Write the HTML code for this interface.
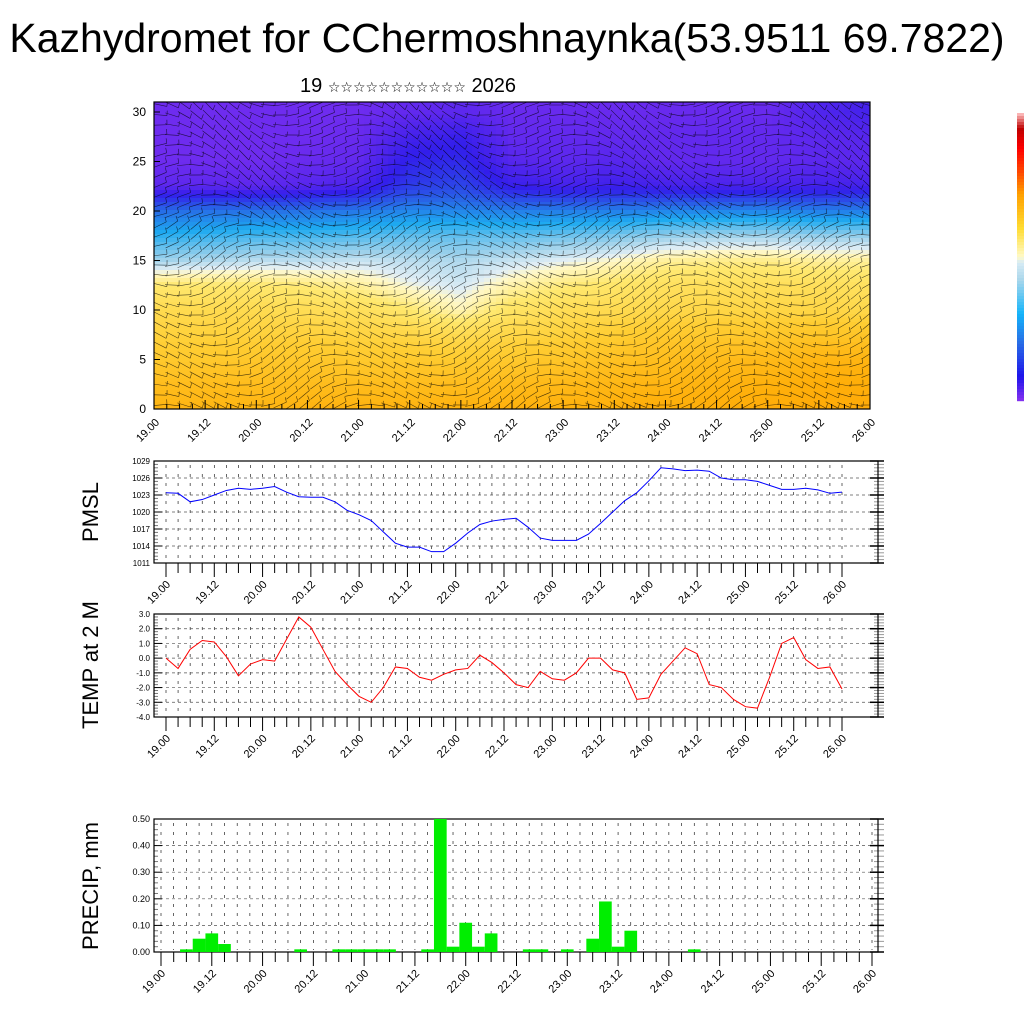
<!DOCTYPE html>
<html><head><meta charset="utf-8">
<style>
html,body{margin:0;padding:0;background:#fff;}
svg{display:block;font-family:"Liberation Sans","DejaVu Sans",sans-serif;}
</style></head>
<body>
<svg id="s" width="1024" height="1024" viewBox="0 0 1024 1024" xmlns="http://www.w3.org/2000/svg">
<defs><clipPath id="clipTop"><rect x="154" y="102" width="716" height="307"/></clipPath></defs>
<text x="507" y="52" font-size="41" text-anchor="middle">Kazhydromet for CChermoshnaynka(53.9511 69.7822)</text>
<text x="408" y="92" font-size="20" text-anchor="middle">19 <tspan font-size="14">☆☆☆☆☆☆☆☆☆☆☆</tspan> 2026</text>
<g id="topPanel"></g>
<g id="cbar"></g>
<g id="pmsl"></g>
<g id="temp"></g>
<g id="prec"></g>
<text transform="translate(98,512) rotate(-90)" font-size="22" text-anchor="middle">PMSL</text>
<text transform="translate(98,665) rotate(-90)" font-size="22" text-anchor="middle">TEMP at 2 M</text>
<text transform="translate(98,886) rotate(-90)" font-size="22" text-anchor="middle">PRECIP, mm</text>
</svg>
<script>
// ---------- data ----------
const timeLabels = ["19.00","19.12","20.00","20.12","21.00","21.12","22.00","22.12","23.00","23.12","24.00","24.12","25.00","25.12","26.00"];
const pmslTicks = [1011,1014,1017,1020,1023,1026,1029];
const pmslValues = [1023.4,1023.3,1021.8,1022.2,1023.0,1023.8,1024.2,1024.0,1024.2,1024.5,1023.5,1022.7,1022.6,1022.6,1021.8,1020.3,1019.5,1018.5,1016.5,1014.5,1013.8,1013.8,1013.0,1013.0,1014.5,1016.3,1017.8,1018.4,1018.7,1018.9,1017.3,1015.4,1015.0,1015.0,1015.0,1016.1,1018.0,1020.0,1022.0,1023.4,1025.5,1027.8,1027.6,1027.3,1027.4,1027.2,1026.0,1025.7,1025.7,1025.4,1024.7,1024.0,1024.0,1024.2,1023.9,1023.3,1023.5];
const tempTicks = [-4,-3,-2,-1,0,1,2,3];
const tempValues = [0.0,-0.7,0.6,1.2,1.1,0.1,-1.2,-0.4,-0.1,-0.2,1.3,2.8,2.1,0.6,-0.9,-1.8,-2.6,-3.0,-2.0,-0.6,-0.7,-1.3,-1.5,-1.1,-0.8,-0.7,0.2,-0.3,-1.0,-1.8,-2.0,-0.9,-1.4,-1.5,-1.0,0.0,0.0,-0.8,-1.0,-2.8,-2.7,-1.1,-0.2,0.7,0.3,-1.8,-2.0,-2.8,-3.3,-3.4,-1.3,1.0,1.4,-0.1,-0.7,-0.6,-2.1];
const precTicks = [0,0.1,0.2,0.3,0.4,0.5];
const precValues = [0,0,0.01,0.05,0.07,0.03,0,0,0,0,0,0.01,0,0,0.01,0.01,0.01,0.01,0.01,0,0,0.01,0.5,0.02,0.11,0.02,0.07,0,0,0.01,0.01,0,0.01,0,0.05,0.19,0.02,0.08,0,0,0,0,0.01,0,0,0,0,0,0,0,0,0,0,0,0,0,0];
const heightTicks = [0,5,10,15,20,25,30];
// normalized field: columns every 12h (15), rows 0..30 km every 2.5 (13)
const fieldCols = [
 [0.82,0.78,0.72,0.68,0.64,0.58,0.45,0.36,0.26,0.06,0.03,0.03,0.03],
 [0.82,0.78,0.72,0.68,0.64,0.58,0.46,0.37,0.27,0.06,0.03,0.03,0.03],
 [0.82,0.78,0.73,0.68,0.64,0.58,0.47,0.38,0.27,0.06,0.03,0.03,0.03],
 [0.83,0.78,0.73,0.68,0.63,0.57,0.47,0.38,0.27,0.07,0.04,0.03,0.03],
 [0.83,0.78,0.72,0.67,0.62,0.55,0.48,0.39,0.28,0.09,0.05,0.04,0.03],
 [0.83,0.78,0.72,0.66,0.58,0.51,0.47,0.40,0.30,0.18,0.14,0.10,0.05],
 [0.84,0.78,0.71,0.64,0.53,0.49,0.46,0.40,0.30,0.20,0.15,0.12,0.06],
 [0.84,0.79,0.72,0.66,0.60,0.54,0.48,0.40,0.29,0.12,0.07,0.05,0.04],
 [0.84,0.80,0.74,0.68,0.63,0.57,0.50,0.41,0.29,0.10,0.06,0.05,0.04],
 [0.85,0.81,0.76,0.70,0.64,0.59,0.52,0.42,0.29,0.11,0.07,0.05,0.04],
 [0.86,0.82,0.78,0.72,0.65,0.61,0.55,0.44,0.30,0.10,0.05,0.05,0.04],
 [0.86,0.83,0.79,0.72,0.66,0.62,0.56,0.45,0.30,0.09,0.05,0.05,0.04],
 [0.87,0.84,0.80,0.73,0.66,0.62,0.56,0.45,0.30,0.09,0.05,0.05,0.04],
 [0.88,0.86,0.82,0.74,0.66,0.62,0.55,0.44,0.29,0.10,0.06,0.06,0.08],
 [0.88,0.86,0.82,0.74,0.65,0.61,0.55,0.44,0.29,0.10,0.06,0.07,0.10]
];
// ---------- helpers ----------
const NS="http://www.w3.org/2000/svg";
function mk(parent,tag,attrs){const e=document.createElementNS(NS,tag);for(const k in attrs)e.setAttribute(k,attrs[k]);parent.appendChild(e);return e;}
const stops=[[0,[128,48,240]],[0.13,[50,30,235]],[0.25,[40,100,230]],[0.35,[30,170,240]],[0.45,[160,210,235]],[0.5,[225,238,245]],[0.52,[255,248,200]],[0.58,[255,232,110]],[0.7,[255,205,50]],[0.85,[255,175,10]],[1,[255,155,0]]];
const cbStops=[[0,[128,48,240]],[0.08,[30,20,235]],[0.2,[40,110,230]],[0.3,[20,180,250]],[0.42,[170,215,235]],[0.48,[215,235,245]],[0.5,[255,250,200]],[0.6,[255,220,50]],[0.72,[255,160,0]],[0.8,[255,70,0]],[0.88,[255,0,0]],[0.95,[190,0,0]],[1,[250,180,180]]];
function interp(st,v){v=Math.max(0,Math.min(1,v));for(let i=1;i<st.length;i++){if(v<=st[i][0]){const a=st[i-1],b=st[i];const t=(v-a[0])/(b[0]-a[0]);const c=a[1].map((x,j)=>Math.round(x+(b[1][j]-x)*t));return `rgb(${c[0]},${c[1]},${c[2]})`;}}const c=st[st.length-1][1];return `rgb(${c[0]},${c[1]},${c[2]})`;}
const col=v=>interp(stops,v);

// ---------- top panel ----------
const topG=document.getElementById('topPanel');
const TX0=154,TX1=870,TY0=409,TYpx=9.9;
const tx=d=>TX0+(TX1-TX0)*d/14;
const ty=h=>TY0-h*TYpx;
const TYtop=102;
const cw=6,ch=4;
for(let x=TX0;x<TX1;x+=cw){for(let y=TYtop;y<TY0;y+=ch){
  const d=(x+cw/2-TX0)/(TX1-TX0)*14; const h=(TY0-(y+ch/2))/TYpx;
  const ci=Math.min(13,Math.floor(d)),ct=Math.min(1,d-ci);
  const ri=Math.max(0,Math.min(11,Math.floor(h/2.5))),rt=Math.max(0,Math.min(1,h/2.5-ri));
  const a=fieldCols[ci],b=fieldCols[ci+1];
  const v0=a[ri]+(a[ri+1]-a[ri])*rt,v1=b[ri]+(b[ri+1]-b[ri])*rt;
  const c=mk(topG,'rect',{x:x,y:y,width:Math.min(cw,TX1-x)+0.5,height:Math.min(ch,TY0-y)+0.5,fill:col(v0+(v1-v0)*ct)});
  
  
}}
// decorative wind barbs
const barbs=mk(topG,'g',{stroke:'#000','stroke-width':'0.6',opacity:'0.7','clip-path':'url(#clipTop)'});


for(let i=0;i<60;i++){for(let j=0;j<31;j++){
  const x=TX0+6+i*12,y=TY0-4-j*10; if(y<TYtop+3) continue;
  const ang=(Math.sin(i*0.37+j*0.21)*0.6)+(j>18?0.2:-0.1);
  const L=14;const dx=Math.cos(ang)*L,dy=Math.sin(ang)*L;
  mk(barbs,'line',{x1:x-dx/2,y1:y-dy/2,x2:x+dx/2,y2:y+dy/2});
  mk(barbs,'line',{x1:x+dx/2,y1:y+dy/2,x2:x+dx/2+3*Math.sin(ang),y2:y+dy/2-5});
}}
mk(topG,'rect',{x:TX0,y:TYtop,width:TX1-TX0,height:TY0-TYtop,fill:'none',stroke:'#000','stroke-width':1.2});
heightTicks.forEach(h=>{
  const t=mk(topG,'text',{x:146,y:ty(h)+4,'font-size':12,'text-anchor':'end'});t.textContent=h;
  
  
  mk(topG,'line',{x1:TX0,x2:TX0+6,y1:ty(h),y2:ty(h),stroke:'#000'});
});
timeLabels.forEach((lab,i)=>{
  const x=tx(i);
  const t=mk(topG,'text',{transform:`translate(${x+6},${TY0+14}) rotate(-45)`,'font-size':11,'text-anchor':'end'});t.textContent=lab;
  
  
});
for(let k=0;k<=56;k++){const x=TX0+(TX1-TX0)*k/56;mk(topG,'line',{x1:x,x2:x,y1:TY0,y2:TY0-(k%4?5:9),stroke:'#000'});}

// colorbar
const cb=document.getElementById('cbar');
for(let k=0;k<96;k++){const v=1-k/95;
 const r=mk(cb,'rect',{x:1017,y:113+k*3,width:7,height:3.2,fill:interp(cbStops,v)});
 
 }

// ---------- line panels ----------
function panel(g,y0,y1,vmin,vmax,ticks,fmt,fs,xA,xB,left,right){
  const fy=v=>y1-(v-vmin)/(vmax-vmin)*(y1-y0);
  const fx=i=>xA+(xB-xA)*i/56;
  for(let k=0;k<=56;k++){const x=fx(k);mk(g,'line',{x1:x,x2:x,y1:y0+4,y2:y1-2,stroke:'#000','stroke-width':0.6,'stroke-dasharray':'3,6'});}
  ticks.forEach(v=>{mk(g,'line',{x1:left,x2:right,y1:fy(v),y2:fy(v),stroke:'#555','stroke-width':0.7,'stroke-dasharray':'3,3'});
    mk(g,'line',{x1:left,x2:left+8,y1:fy(v),y2:fy(v),stroke:'#000'});
    mk(g,'line',{x1:right-8,x2:right+6,y1:fy(v),y2:fy(v),stroke:'#000','stroke-width':1.5});
    const t=mk(g,'text',{x:left-4,y:fy(v)+3,'font-size':fs,'text-anchor':'end'});t.textContent=fmt(v);
    
    });
  for(let k=0;k<ticks.length-1;k++){for(let m=1;m<5;m++){const v=ticks[k]+(ticks[k+1]-ticks[k])*m/5;
    mk(g,'line',{x1:left,x2:left+4,y1:fy(v),y2:fy(v),stroke:'#777'});
    mk(g,'line',{x1:right-4,x2:right+6,y1:fy(v),y2:fy(v),stroke:'#999'});}}
  mk(g,'rect',{x:left,y:y0,width:right-left,height:y1-y0,fill:'none',stroke:'#000','stroke-width':1.2});
  for(let k=0;k<=56;k++){const x=fx(k);mk(g,'line',{x1:x,x2:x,y1:y1,y2:y1+(k%4?10:14),stroke:'#000','stroke-width':1});}
  timeLabels.forEach((lab,i)=>{const x=fx(i*4);
    const t=mk(g,'text',{transform:`translate(${x+5},${y1+22}) rotate(-45)`,'font-size':11,'text-anchor':'end'});t.textContent=lab;
    
    });
  return {fx,fy};
}
function line(g,vals,ax,color,name){
  const p=mk(g,'polyline',{points:vals.map((v,i)=>ax.fx(i)+','+ax.fy(v)).join(' '),fill:'none',stroke:color,'stroke-width':1});
  
  
}
const gp=document.getElementById('pmsl');
const ap=panel(gp,461,563,1011,1029,pmslTicks,v=>String(v),8,166,842,154,878);
line(gp,pmslValues,ap,'#0000ff','pmsl-line');
const gt=document.getElementById('temp');
const at=panel(gt,614,717,-4,3,tempTicks,v=>v.toFixed(1),8,166,842,154,878);
line(gt,tempValues,at,'#ff0000','temp-line');
const gr=document.getElementById('prec');
const ar=panel(gr,819,952,0,0.5,precTicks,v=>v.toFixed(2),9,161,872,154,878);
const bw=(872-161)/56;
precValues.forEach((v,i)=>{if(v<=0)return;
  const b=mk(gr,'rect',{x:ar.fx(i)-bw/2,y:ar.fy(v),width:bw,height:952-ar.fy(v),fill:'#00ee00'});
  
  });
</script>
</body></html>
